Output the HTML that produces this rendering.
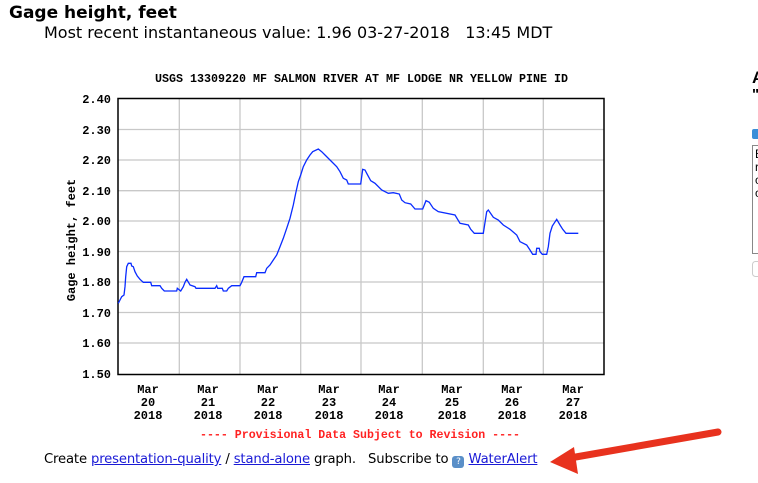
<!DOCTYPE html>
<html><head><meta charset="utf-8"><style>
body{margin:0;width:758px;height:483px;background:#fff;overflow:hidden;position:relative;font-family:"Liberation Sans","DejaVu Sans",sans-serif}
.a{position:absolute;white-space:nowrap}
a{color:#1a1ad6;text-decoration:underline}
</style></head><body>
<div class="a" style="left:9px;top:3px;font-size:17px;font-weight:bold;font-family:'DejaVu Sans',sans-serif">Gage height, feet</div>
<div class="a" style="left:44px;top:23px;font-size:16px;font-family:'DejaVu Sans',sans-serif">Most recent instantaneous value: 1.96 03-27-2018&nbsp;&nbsp;&nbsp;13:45 MDT</div>
<svg class="a" style="left:0;top:0" width="758" height="483">
<g font-family="Liberation Mono,monospace" font-weight="bold" font-size="12" fill="#000">
<text x="155" y="82" textLength="413" lengthAdjust="spacingAndGlyphs">USGS 13309220 MF SALMON RIVER AT MF LODGE NR YELLOW PINE ID</text>
<g stroke="#c8c8c8" stroke-width="1.3">
<line x1="118" x2="604" y1="129.5" y2="129.5"/><line x1="118" x2="604" y1="160" y2="160"/><line x1="118" x2="604" y1="190.7" y2="190.7"/><line x1="118" x2="604" y1="221" y2="221"/><line x1="118" x2="604" y1="251.5" y2="251.5"/><line x1="118" x2="604" y1="282" y2="282"/><line x1="118" x2="604" y1="312.5" y2="312.5"/><line x1="118" x2="604" y1="343" y2="343"/>
<line y1="99" y2="374" x1="179.3" x2="179.3"/><line y1="99" y2="374" x1="240" x2="240"/><line y1="99" y2="374" x1="300.7" x2="300.7"/><line y1="99" y2="374" x1="361" x2="361"/><line y1="99" y2="374" x1="422.3" x2="422.3"/><line y1="99" y2="374" x1="483.3" x2="483.3"/><line y1="99" y2="374" x1="543.3" x2="543.3"/>
</g>
<rect x="118" y="98.5" width="486" height="276" fill="none" stroke="#000" stroke-width="1.5"/>
<g text-anchor="end"><text x="111" y="103">2.40</text><text x="111" y="134">2.30</text><text x="111" y="164">2.20</text><text x="111" y="195">2.10</text><text x="111" y="225">2.00</text><text x="111" y="256">1.90</text><text x="111" y="286">1.80</text><text x="111" y="317">1.70</text><text x="111" y="347">1.60</text><text x="111" y="378">1.50</text></g>
<text transform="translate(75,240) rotate(-90)" text-anchor="middle">Gage height, feet</text>
<g text-anchor="middle">
<text x="148" y="393">Mar</text><text x="148" y="406">20</text><text x="148" y="419">2018</text>
<text x="208" y="393">Mar</text><text x="208" y="406">21</text><text x="208" y="419">2018</text>
<text x="268" y="393">Mar</text><text x="268" y="406">22</text><text x="268" y="419">2018</text>
<text x="329" y="393">Mar</text><text x="329" y="406">23</text><text x="329" y="419">2018</text>
<text x="389" y="393">Mar</text><text x="389" y="406">24</text><text x="389" y="419">2018</text>
<text x="452" y="393">Mar</text><text x="452" y="406">25</text><text x="452" y="419">2018</text>
<text x="512" y="393">Mar</text><text x="512" y="406">26</text><text x="512" y="419">2018</text>
<text x="573" y="393">Mar</text><text x="573" y="406">27</text><text x="573" y="419">2018</text>
</g>
<text x="200" y="438" fill="#f22" textLength="320" lengthAdjust="spacingAndGlyphs">---- Provisional Data Subject to Revision ----</text>
</g>
<polyline fill="none" stroke="#0a2cff" stroke-width="1.3" points="118.3,303.3 120,300 121.7,296.7 124,295 125,286.7 125.7,276.7 126.7,266.7 128.3,263.3 131,263.3 131.7,266 133.3,266.7 135,271.7 137.3,276 140,279.3 143.3,282.3 150.7,282.3 151.7,285.7 160,285.7 161.7,288.3 164.3,291 176.7,291 177.3,288.3 180.7,291 183.3,286.7 185,282.3 186.7,279.3 190,285 195,286.7 196,288.3 215,288.3 216.7,285.7 217.7,288.3 222.3,288.3 223.3,291 226.7,291 228.3,288.3 231.7,285.7 240,285.7 241.7,282.3 244,276.7 255.7,276.7 256.7,272.7 265,272.7 266.7,268.3 270,265 273.3,260 276.7,255 280,246.7 283.3,238.3 286.7,228.3 290,218.3 293.3,205 295.7,193.3 298.3,181.7 300.7,175 303.3,166.7 306.7,160 310,155 312.7,151.7 318.3,149 321.7,151.7 325,155 330,160 336.7,166.7 340,171.7 343.3,178.3 346.7,180 348.3,184 360.7,184 362.7,169.3 365,170 366.7,173.3 370.7,180.7 375,183.3 381.7,190 388.3,193.3 393.3,192.7 399.3,194 401.7,200 405,202.7 410.7,204 415,209 422.7,209 426,200.7 429.3,202.3 433.3,208.3 438.3,211.7 455,215 460,223.3 468.3,225 470.7,229.3 474.3,233.3 483.3,233.3 486.7,211.7 488.3,210 493.3,217.3 498.3,220 503.3,225 510,229.3 516.7,235 520,241.7 526.7,245 530,250 532.7,254.3 536,254.3 536.7,248.3 539.3,248.3 540,251.7 542.3,254.3 546.7,254.3 548.3,246.7 550,233.3 552.3,226 556.7,219.3 560,225 562.7,229.3 566,233.3 578.3,233.3"/>
<rect x="752.5" y="145.5" width="10" height="108" fill="none" stroke="#888"/>
<rect x="752.5" y="261.5" width="10" height="15" rx="3" fill="none" stroke="#ccc"/>
<rect x="752" y="129" width="10" height="10" rx="2" fill="#3a8ed8"/>
<path d="M570,458 L718,432" stroke="#e8321e" stroke-width="7" stroke-linecap="round"/>
<polygon points="550,462 574,447 578,474" fill="#e8321e"/>
</svg>
<div class="a" style="left:752px;top:68px;font-size:17px;font-weight:bold">A</div>
<div class="a" style="left:752px;top:86px;font-size:15px;font-weight:bold">"</div>
<div class="a" style="left:755px;top:148px;font-size:12px;line-height:13px">E<br>r<br>c<br>c</div>
<div class="a" style="left:44px;top:452px;font-size:13.2px;font-family:'DejaVu Sans',sans-serif;letter-spacing:-0.15px">Create <a>presentation-quality</a> / <a>stand-alone</a> graph.&nbsp;&nbsp;&nbsp;Subscribe to <span style="display:inline-block;width:12px;height:12px;border-radius:3px;background:#5a8fc8;color:#fff;font-size:9px;text-align:center;line-height:12px;vertical-align:-1px">?</span> <a>WaterAlert</a></div>
</body></html>
